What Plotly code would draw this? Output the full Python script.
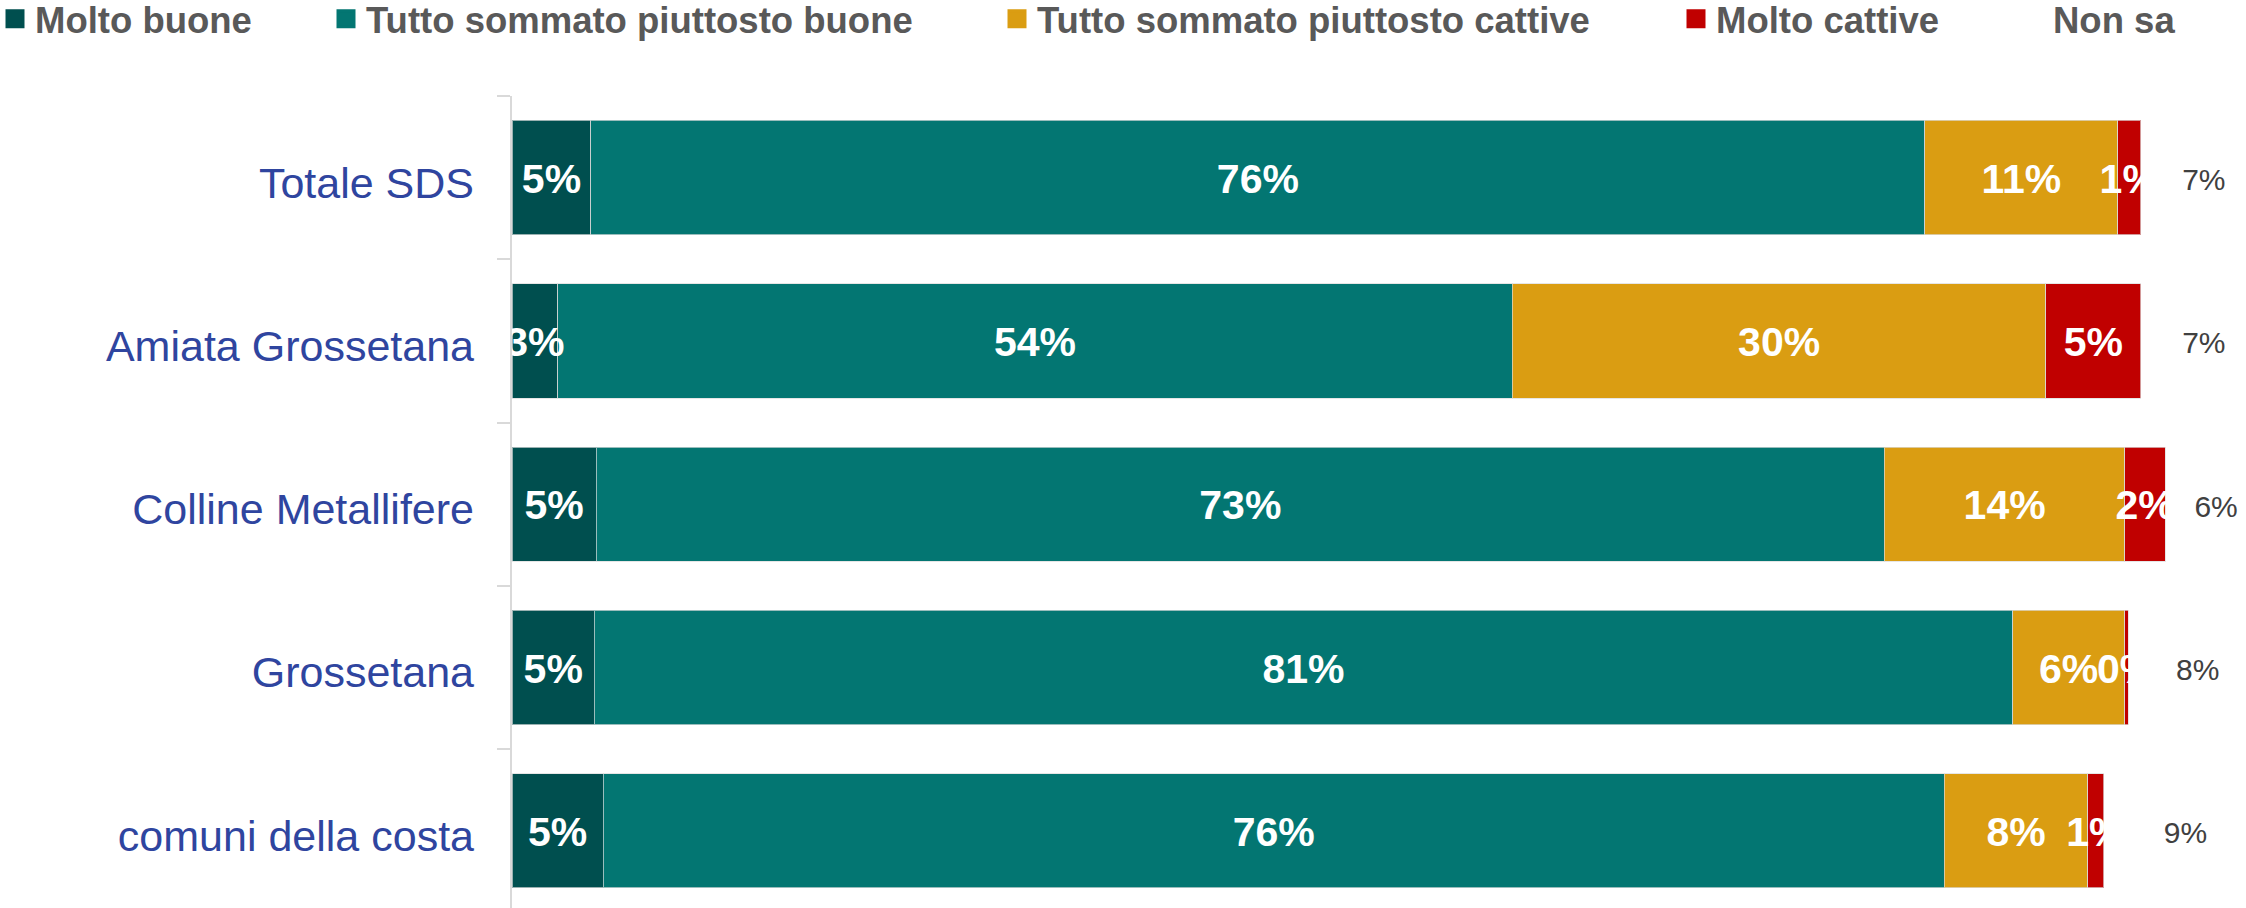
import numpy as np
import plotly.graph_objects as go

# ---- data ----
categories = ["Totale SDS", "Amiata Grossetana", "Colline Metallifere", "Grossetana", "comuni della costa"]
series_names = ["Molto buone", "Tutto sommato piuttosto buone", "Tutto sommato piuttosto cattive", "Molto cattive", "Non sa"]
molto_buone = [4.5, 2.6, 4.8, 4.7, 5.2]
tutto_buone = [76.0, 54.4, 73.4, 80.8, 76.4]
tutto_cattive = [11.0, 30.4, 13.7, 6.4, 8.2]
molto_cattive = [1.3, 5.4, 2.3, 0.2, 0.9]
non_sa = [7.2, 7.2, 5.8, 7.9, 9.3]

# ---- style ----
W, H = 2246, 908
L, T = 512, 96
PW = W - L
colors = ["#004F4F", "#037672", "#DA9D12", "#C00000", "rgba(0,0,0,0)"]
label_colors = ["white", "white", "white", "white", "#404040"]
label_sizes = [41, 41, 41, 41, 30]
label_bold = [True, True, True, True, False]
legend_text_px = [35, 366, 1037, 1716, 2053]
FONT = "Arial, Liberation Sans, sans-serif"

values = [molto_buone, tutto_buone, tutto_cattive, molto_cattive, non_sa]
arr = np.array(values, dtype=float)
starts = np.vstack([np.zeros(arr.shape[1]), np.cumsum(arr, axis=0)[:-1]])
centers = starts + arr / 2

fig = go.Figure()
for i, (name, vals) in enumerate(zip(series_names, values)):
    fig.add_trace(go.Bar(
        y=categories, x=vals, orientation="h", name=name,
        marker=dict(color=colors[i],
                    line=dict(width=0 if i == 4 else 1, color="rgba(220,220,220,0.7)")),
        showlegend=False, hoverinfo="skip",
    ))

for i, name in enumerate(series_names):
    labels = [f"{int(v + 0.5)}%" for v in values[i]]
    fig.add_trace(go.Scatter(
        y=categories, x=centers[i], mode="text", text=labels, yaxis="y2",
        textposition="middle center",
        textfont=dict(family=FONT, size=label_sizes[i], color=label_colors[i],
                      weight="bold" if label_bold[i] else "normal"),
        showlegend=False, hoverinfo="skip", cliponaxis=False,
    ))

# legend entries (square markers)
for i, name in enumerate(series_names):
    fig.add_trace(go.Scatter(
        x=[None], y=[None], mode="markers", name=name,
        marker=dict(symbol="square", size=16, color=colors[i],
                    line=dict(width=3, color=colors[i])),
        legend="legend" if i == 0 else f"legend{i+1}",
        showlegend=True,
    ))

legend_common = dict(
    orientation="h", xref="paper", yref="paper",
    xanchor="left", yanchor="middle", y=1 + (T - 19) / (H - T),
    font=dict(family=FONT, size=36.5, color="#595959", weight="bold"),
    bgcolor="rgba(0,0,0,0)", borderwidth=0,
)
legends = {}
for i in range(5):
    key = "legend" if i == 0 else f"legend{i+1}"
    legends[key] = dict(legend_common, x=(legend_text_px[i] - 40 - L) / PW)

n = len(categories)
yrange = [n - 0.5 - 4.3 / 163.25, -0.5]
shift = 5 / 163.25
yrange2 = [yrange[0] - shift, yrange[1] - shift]

fig.update_layout(
    width=W, height=H,
    barmode="stack", bargap=0.3,
    plot_bgcolor="white", paper_bgcolor="white",
    margin=dict(l=L, r=0, t=T, b=0, autoexpand=False),
    xaxis=dict(range=[0, PW / 17.55], visible=False, showgrid=False, zeroline=False),
    yaxis=dict(
        type="category", categoryorder="array", categoryarray=categories,
        range=yrange,
        tickson="boundaries", ticks="outside", ticklen=13, tickwidth=2, tickcolor="#D9D9D9",
        showline=True, linecolor="#D9D9D9", linewidth=2, showgrid=False, zeroline=False,
        showticklabels=False, automargin=False,
    ),
    yaxis2=dict(
        type="category", categoryorder="array", categoryarray=categories,
        overlaying="y", side="left", range=yrange2,
        ticks="", showline=False, showgrid=False, zeroline=False,
        tickfont=dict(family=FONT, size=43, color="#2F459F"),
        ticklabelstandoff=37, automargin=False,
    ),
    **legends,
)

fig.write_html("out.html", config={"displayModeBar": False},
               post_script="document.body.style.margin='0';document.body.style.overflow='hidden';")
